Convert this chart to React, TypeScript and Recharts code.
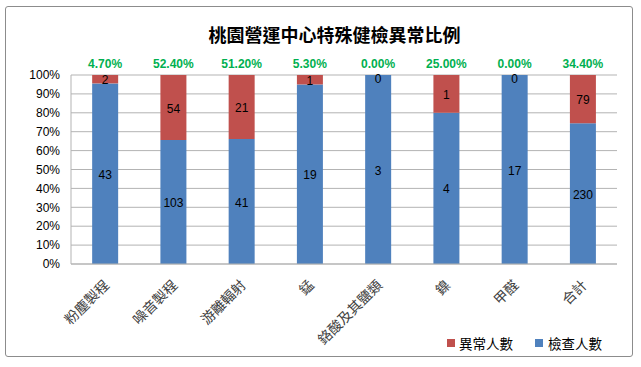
import React from "react";
import { BarChart, Bar, XAxis, YAxis, CartesianGrid, LabelList } from "recharts";

const categories = ["粉塵製程", "噪音製程", "游離輻射", "錳", "鉻酸及其鹽類", "鎳", "甲醛", "合計"];
const checkedCounts = [43, 103, 41, 19, 3, 4, 17, 230];
const abnormalCounts = [2, 54, 21, 1, 0, 1, 0, 79];
const ratioLabels = ["4.70%", "52.40%", "51.20%", "5.30%", "0.00%", "25.00%", "0.00%", "34.40%"];
const yTicks = [0, 0.1, 0.2, 0.3, 0.4, 0.5, 0.6, 0.7, 0.8, 0.9, 1];

const data = categories.map((c, i) => ({
  name: c,
  checked: checkedCounts[i],
  abnormal: abnormalCounts[i],
  ratio: ratioLabels[i],
}));

const BLUE = "#4F81BD";
const RED = "#C0504D";
const CJK = "'Noto Sans CJK TC', 'Noto Sans CJK SC', sans-serif";
const NUM = "'Liberation Sans', 'DejaVu Sans', sans-serif";

const XTick = (props: any) => {
  const { x, y, payload } = props;
  const ax = x + 5;
  const ay = y + 14;
  return (
    <text
      x={ax}
      y={ay}
      transform={`rotate(-45, ${ax}, ${ay})`}
      textAnchor="end"
      fontFamily={CJK}
      fontSize={14}
      fill="#404040"
    >
      {payload.value}
    </text>
  );
};

const RatioTick = (props: any) => {
  const { x, y, index } = props;
  return (
    <text
      x={x}
      y={y - 3}
      textAnchor="middle"
      dominantBaseline="central"
      fontFamily={NUM}
      fontWeight="bold"
      fontSize={12}
      fill="#00B050"
    >
      {ratioLabels[index]}
    </text>
  );
};

const SegLabel = (props: any) => {
  const { x, y, width, height, value } = props;
  return (
    <text
      x={x + width / 2}
      y={y + height / 2 + 1}
      textAnchor="middle"
      dominantBaseline="central"
      fontFamily={NUM}
      fontSize={12}
      fill="#000"
    >
      {value}
    </text>
  );
};

const ZeroLabel = (props: any) => {
  const { x, y, width, value } = props;
  if (value !== 0) return null;
  return (
    <text
      x={x + width / 2}
      y={y + 4}
      textAnchor="middle"
      dominantBaseline="central"
      fontFamily={NUM}
      fontSize={12}
      fill="#000"
    >
      {value}
    </text>
  );
};

export default function App() {
  return (
    <div style={{ position: "absolute", left: 0, top: 0, width: 641, height: 367, background: "#fff" }}>
      <div
        style={{
          position: "absolute",
          left: 5,
          top: 6,
          width: 626,
          height: 349,
          border: "1px solid #8c8c8c",
          borderRadius: 3,
          boxSizing: "content-box",
        }}
      />
      <div
        style={{
          position: "absolute",
          left: 14,
          top: 22,
          width: 641,
          textAlign: "center",
          fontFamily: CJK,
          fontWeight: "bold",
          fontSize: 18,
          color: "#000",
          lineHeight: "24px",
        }}
      >
        桃園營運中心特殊健檢異常比例
      </div>
      <div style={{ position: "absolute", left: 0, top: 0 }}>
        <BarChart
          width={641}
          height={367}
          data={data}
          stackOffset="expand"
          margin={{ top: 55, right: 24, bottom: 33, left: 0 }}
          barCategoryGap="31%"
        >
          <CartesianGrid vertical={false} stroke="#b3b3b3" strokeWidth={1} />
          <XAxis
            dataKey="name"
            tick={<XTick />}
            tickLine={false}
            axisLine={{ stroke: "#b3b3b3" }}
            interval={0}
            height={70}
          />
          <XAxis
            xAxisId="top"
            orientation="top"
            dataKey="name"
            tick={<RatioTick />}
            tickLine={false}
            axisLine={false}
            interval={0}
            height={20}
          />
          <YAxis
            ticks={yTicks}
            domain={[0, 1]}
            tickFormatter={(v: number) => `${Math.round(v * 100)}%`}
            tick={{ fontFamily: NUM, fontSize: 12, fill: "#000" }}
            tickLine={false}
            tickMargin={5}
            axisLine={{ stroke: "#b3b3b3" }}
            width={71}
            interval={0}
          />
          <Bar dataKey="checked" stackId="a" fill={BLUE} isAnimationActive={false}>
            <LabelList dataKey="checked" content={<SegLabel />} />
            <LabelList dataKey="abnormal" content={<ZeroLabel />} />
          </Bar>
          <Bar dataKey="abnormal" stackId="a" fill={RED} isAnimationActive={false}>
            <LabelList dataKey="abnormal" content={<SegLabel />} />
          </Bar>
        </BarChart>
      </div>
      <div
        style={{
          position: "absolute",
          left: 447,
          top: 333,
          display: "flex",
          alignItems: "center",
          fontFamily: CJK,
          fontSize: 13.5,
          color: "#000",
        }}
      >
        <span style={{ width: 8, height: 8, background: RED, display: "inline-block", marginRight: 4 }} />
        <span>異常人數</span>
        <span style={{ width: 8, height: 8, background: BLUE, display: "inline-block", marginLeft: 22, marginRight: 5 }} />
        <span>檢查人數</span>
      </div>
    </div>
  );
}
